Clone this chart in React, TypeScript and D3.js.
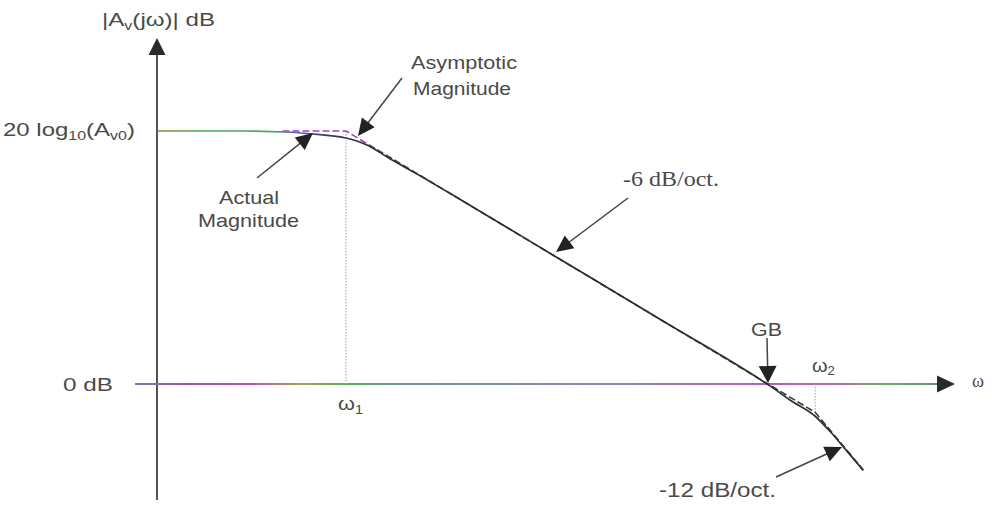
import React from "react";
import * as d3 from "d3";

const W = 992;
const H = 508;

// Key frequencies (rad/s) and the low-frequency gain in dB
const OMEGA1 = 1;
const GB = 1e4;
const OMEGA2 = 2.8e4;
const AV0_DB = 80;

// Asymptotic magnitude breakpoints
const asymOmega = [0.25, 1, 1e4, 2.8e4, 8e4];
const asymDb = [80, 80, 0, -8.94, -27.18];

// Actual magnitude samples
const actOmega = [0.0165, 0.1, 0.3, 0.5, 1, 1.6, 2.5, 5, 10, 100, 1000, 1e4, 1.25e4, 1.6e4, 2.8e4, 4e4, 5.5e4, 8e4];
const actDb = [80, 80, 79.6, 79.0, 77.8, 75.5, 71.6, 65.9, 60, 40, 20, -0.2, -2.4, -5.0, -10.2, -15.5, -20.9, -27.3];

const SANS = "'Liberation Sans', Arial, Helvetica, sans-serif";
const SERIF = "'Liberation Serif', 'Times New Roman', serif";
const TEXT = "#4a4a4a";
const INK = "#2e2e2e";

// Log frequency axis anchored on ω1 and GB; linear dB axis
const x = d3.scaleLog().domain([OMEGA1, GB]).range([346, 768]);
const y = d3.scaleLinear().domain([0, AV0_DB]).range([384, 131]);

const AXIS_X = 157;
const AXIS_TOP = 38;
const AXIS_BOTTOM = 500;
const ZERO_LEFT = 135;
const ZERO_RIGHT = 955;

type P = [number, number];

function Arrow({ from, to, len = 17, half = 8, stroke = "#444", fill = "#222" }: { from: P; to: P; len?: number; half?: number; stroke?: string; fill?: string }) {
  const [x1, y1] = from;
  const [x2, y2] = to;
  const dx = x2 - x1;
  const dy = y2 - y1;
  const d = Math.hypot(dx, dy);
  const ux = dx / d;
  const uy = dy / d;
  const bx = x2 - ux * len;
  const by = y2 - uy * len;
  const nx = -uy;
  const ny = ux;
  const head = `${x2},${y2} ${bx + nx * half},${by + ny * half} ${bx - nx * half},${by - ny * half}`;
  return (
    <g>
      <line x1={x1} y1={y1} x2={bx + ux * 2} y2={by + uy * 2} stroke={stroke} strokeWidth={1.5} />
      <polygon points={head} fill={fill} />
    </g>
  );
}

function Label({ x: lx, y: ly, len, size, family = SANS, fill = TEXT, children }: { x: number; y: number; len: number; size: number; family?: string; fill?: string; children: React.ReactNode }) {
  return (
    <text x={lx} y={ly} fontSize={size} fontFamily={family} fill={fill} textLength={len} lengthAdjust="spacingAndGlyphs">
      {children}
    </text>
  );
}

export default function App() {
  const line = d3
    .line<[number, number]>()
    .x((d) => x(d[0]))
    .y((d) => y(d[1]));

  const asymPath = line.curve(d3.curveLinear)(asymOmega.map((w, i) => [w, asymDb[i]] as [number, number])) || "";
  const actPath = line.curve(d3.curveMonotoneX)(actOmega.map((w, i) => [w, actDb[i]] as [number, number])) || "";

  const x1px = x(OMEGA1);
  const x2px = x(OMEGA2);
  const gbX = x(GB);
  const y0 = y(0);

  return (
    <svg width={W} height={H} style={{ position: "absolute", left: 0, top: 0, background: "#fff" }}>
      <defs>
        <linearGradient id="zeroLine" gradientUnits="userSpaceOnUse" x1={ZERO_LEFT} y1={0} x2={ZERO_RIGHT} y2={0}>
          <stop offset="0" stopColor="#6f80a8" />
          <stop offset="0.06" stopColor="#a050b8" />
          <stop offset="0.14" stopColor="#c050c0" />
          <stop offset="0.2" stopColor="#a8a050" />
          <stop offset="0.26" stopColor="#58b058" />
          <stop offset="0.33" stopColor="#7a8fa8" />
          <stop offset="0.6" stopColor="#8a88b0" />
          <stop offset="0.78" stopColor="#c058b8" />
          <stop offset="0.86" stopColor="#b070a8" />
          <stop offset="0.92" stopColor="#68b068" />
          <stop offset="1" stopColor="#707a88" />
        </linearGradient>
        <linearGradient id="actualLine" gradientUnits="userSpaceOnUse" x1={AXIS_X} y1={0} x2={W} y2={0}>
          <stop offset="0" stopColor="#8a8a40" />
          <stop offset="0.05" stopColor="#40b050" />
          <stop offset="0.14" stopColor="#50a860" />
          <stop offset="0.17" stopColor="#6a58b8" />
          <stop offset="0.2" stopColor="#3a3a60" />
          <stop offset="0.26" stopColor={INK} />
          <stop offset="1" stopColor={INK} />
        </linearGradient>
        <linearGradient id="asymLine" gradientUnits="userSpaceOnUse" x1={AXIS_X} y1={0} x2={W} y2={0}>
          <stop offset="0" stopColor="#a040c0" />
          <stop offset="0.24" stopColor="#a040c0" />
          <stop offset="0.28" stopColor="#444" />
          <stop offset="1" stopColor="#333" />
        </linearGradient>
      </defs>

      {/* y axis */}
      <line x1={AXIS_X} y1={AXIS_BOTTOM} x2={AXIS_X} y2={AXIS_TOP + 14} stroke="#555" strokeWidth={2} />
      <polygon points={`${AXIS_X},${AXIS_TOP} ${AXIS_X - 8.5},${AXIS_TOP + 17} ${AXIS_X + 8.5},${AXIS_TOP + 17}`} fill="#2a2a2a" />

      {/* 0 dB line / ω axis */}
      <line x1={ZERO_LEFT} y1={y0} x2={ZERO_RIGHT - 14} y2={y0} stroke="url(#zeroLine)" strokeWidth={2} />
      <polygon points={`${ZERO_RIGHT},${y0} ${ZERO_RIGHT - 18},${y0 - 8.5} ${ZERO_RIGHT - 18},${y0 + 8.5}`} fill="#2a2a2a" />

      {/* dotted guides at ω1 and ω2 */}
      <line x1={x1px} y1={y(AV0_DB)} x2={x1px} y2={y0} stroke="#8aa0c8" strokeWidth={1} strokeDasharray="1.5 1.5" />
      <line x1={x2px} y1={y0} x2={x2px} y2={y(-8.94)} stroke="#9a9ab8" strokeWidth={1} strokeDasharray="1.5 1.5" />

      {/* asymptotic magnitude */}
      <path d={asymPath} fill="none" stroke="url(#asymLine)" strokeWidth={1.6} strokeDasharray="7 3" />
      {/* actual magnitude */}
      <path d={actPath} fill="none" stroke="url(#actualLine)" strokeWidth={1.7} />

      {/* annotations */}
      <Arrow from={[402, 78]} to={[358, 136]} />
      <Arrow from={[257, 178]} to={[313, 133]} />
      <Arrow from={[628, 198]} to={[556, 252]} />
      <Arrow from={[767, 338]} to={[gbX, y0 - 1]} half={9} />
      <Arrow from={[776, 477]} to={[842, 447]} />

      {/* texts */}
      <Label x={102} y={26} len={113} size={18}>
        |A<tspan fontSize={12} dy={4}>v</tspan>
        <tspan dy={-4}>(jω)| dB</tspan>
      </Label>
      <Label x={3} y={136} len={132} size={18}>
        20 log<tspan fontSize={12} dy={4}>10</tspan>
        <tspan dy={-4}>(A</tspan>
        <tspan fontSize={12} dy={4}>v0</tspan>
        <tspan dy={-4}>)</tspan>
      </Label>
      <Label x={63} y={391} len={50} size={19}>0 dB</Label>
      <Label x={338} y={410} len={25} size={18}>
        ω<tspan fontSize={12} dy={4}>1</tspan>
      </Label>
      <Label x={812} y={372} len={23} size={18}>
        ω<tspan fontSize={12} dy={3}>2</tspan>
      </Label>
      <Label x={972} y={387} len={12} size={19} family={SERIF}>ω</Label>
      <Label x={751} y={336} len={31} size={19}>GB</Label>
      <Label x={411} y={69} len={106} size={18}>Asymptotic</Label>
      <Label x={413} y={95} len={98} size={18}>Magnitude</Label>
      <Label x={219} y={204} len={60} size={19}>Actual</Label>
      <Label x={198} y={227} len={101} size={19}>Magnitude</Label>
      <Label x={623} y={186} len={96} size={21} family={SERIF}>-6 dB/oct.</Label>
      <Label x={659} y={497} len={117} size={20}>-12 dB/oct.</Label>
    </svg>
  );
}
